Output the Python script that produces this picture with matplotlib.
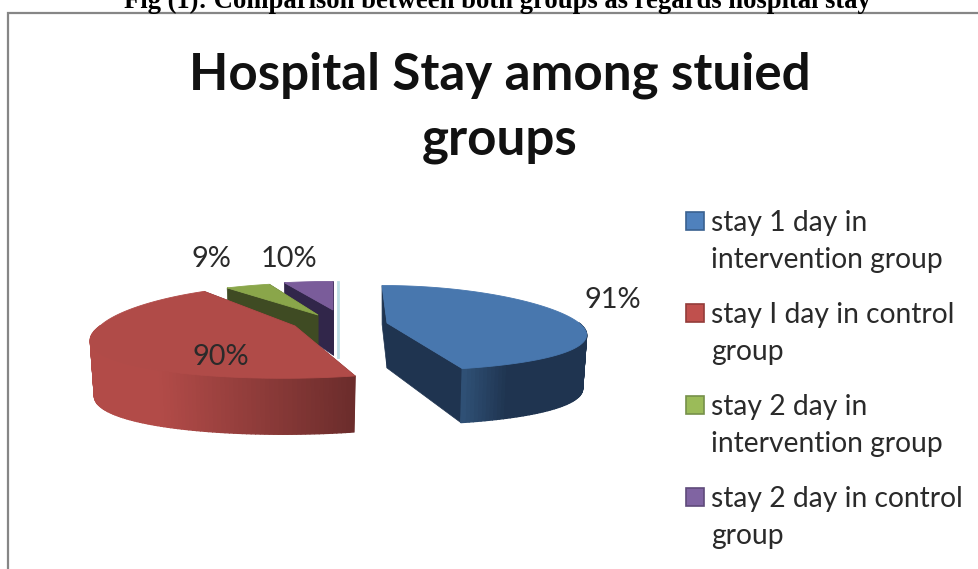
import numpy as np
import matplotlib
matplotlib.use("Agg")
import matplotlib.pyplot as plt
from matplotlib.colors import to_rgb
from matplotlib.patches import Rectangle

# ---- data ----
caption = "Fig (1): Comparison between both groups as regards hospital stay"
title = "Hospital Stay among stuied\ngroups"
labels = ["stay 1 day in\nintervention group", "stay I day in control\ngroup",
          "stay 2 day in\nintervention group", "stay 2 day in control\ngroup"]
values = [91, 90, 9, 10]

# ---- style / layout ----
legend_colors = ["#4f81bd", "#c0504d", "#9bbb59", "#8064a2"]
legend_edges = ["#3a6190", "#933c3a", "#76904a", "#5f4a7a"]
top_colors = ["#4877ae", "#b04b48", "#8aa64a", "#7a5c9a"]
side_colors = ["#1f3450", "#6f2f2e", "#3f4b23", "#31264a"]
wall_light = ["#2f5075", "#b24b48", "#3f4b23", "#31264a"]
wall_dark = ["#1f3450", "#6a2c2b", "#3f4b23", "#31264a"]
centers = [(387, 323), (295, 326), (318, 315), (333, 310)]
radius_x = [192, 195, 195, 195]
radius_y = [42, 46, 36, 32]
shear = [5, 0, 0, 0]
front_shear = [0, -12, 0, 0]
wall_height = [54, 56, 54, 54]
label_pos = [(613, 300), (221, 357), (211, 259), (289, 259)]
KX, KY = 0.25, 0.12
H_APEX, H_BACK_LOSS, BOTTOM = 45, 15, 0.98

plt.rcParams["font.family"] = ["Lato", "DejaVu Sans"]
fig = plt.figure(figsize=(9.79, 5.69), dpi=100)
ax = fig.add_axes([0, 0, 1, 1])
ax.set_xlim(0, 979)
ax.set_ylim(569, 0)
ax.axis("off")

# chart frame and caption
ax.plot([8, 8, 979], [569, 13, 13], color="#868686", lw=1.6, solid_joinstyle="miter")
ax.text(497, 8, caption, family="Liberation Serif", weight="bold", fontsize=19.2,
        ha="center", va="baseline", color="black")
ax.text(500, 108, title, fontsize=36.8, weight="bold", ha="center", va="center",
        linespacing=1.46, color="#111111")


def project(i, theta):
    X, Y = np.sin(theta), -np.cos(theta)
    x = radius_x[i] * X / (1 - KX * Y) + shear[i] * Y + front_shear[i] * np.maximum(Y, 0)
    y = radius_y[i] * Y / (1 - KY * Y)
    return x, y, Y


def depth(i, Y):
    return wall_height[i] - H_BACK_LOSS * np.maximum(-Y, 0)


def mix(a, b, t):
    a, b = np.array(to_rgb(a)), np.array(to_rgb(b))
    return tuple(a + (b - a) * t)


edges = np.radians(np.concatenate([[0], np.cumsum(values)]) / np.sum(values) * 360)

# ---- pale sliver behind the small slices ----
ax.plot([338, 338], [282, 357], color="#bcdde4", lw=2, zorder=1)

for i in [3, 2, 1, 0]:
    z = 2 + (3 - i)
    cx, cy = centers[i]
    th = np.linspace(edges[i], edges[i + 1], 160)
    px, py, pY = project(i, th)

    # cut faces
    for t in (edges[i], edges[i + 1]):
        x, y, Y = project(i, t)
        ax.fill([cx, cx + x, cx + x * BOTTOM, cx],
                [cy, cy + y, cy + y + depth(i, Y), cy + H_APEX],
                color=side_colors[i], lw=0.5, zorder=z)

    # outer wall (front half only), shaded strip by strip from left to right
    xs = cx + px
    front = pY > -0.02
    if front.any():
        lo, hi = xs[front].min(), xs[front].max()
        for k in range(len(th) - 1):
            if not (front[k] and front[k + 1]):
                continue
            u = (min(xs[k], xs[k + 1]) - lo) / max(hi - lo, 1)
            if i == 0:
                col = mix(wall_light[i], wall_dark[i], min(u / 0.35, 1))
            elif i == 1:
                col = mix(wall_light[i], wall_dark[i], max(u - 0.25, 0) / 0.75)
            else:
                col = wall_dark[i]
            h = wall_height[i]
            ax.fill([cx + px[k], cx + px[k + 1], cx + px[k + 1] * BOTTOM, cx + px[k] * BOTTOM],
                    [cy + py[k], cy + py[k + 1], cy + py[k + 1] + h, cy + py[k] + h],
                    color=col, lw=1.0, zorder=z)

    # top face
    ax.fill(np.r_[cx, cx + px], np.r_[cy, cy + py], color=top_colors[i], lw=0.6, zorder=z + 0.5)

# ---- percentage labels ----
for (lx, ly), v in zip(label_pos, values):
    ax.text(lx, ly, f"{v}%", fontsize=20.8, ha="center", va="center", color="#2a2a2a", zorder=10)

# ---- legend ----
for i, lab in enumerate(labels):
    top = 212 + 92 * i
    ax.add_patch(Rectangle((686.5, top), 17.5, 18, facecolor=legend_colors[i],
                           edgecolor=legend_edges[i], lw=1.2, zorder=10))
    line1, line2 = lab.split("\n")
    ax.text(711, top + 11, line1, fontsize=20.3, va="center", ha="left", color="#2a2a2a", zorder=10)
    ax.text(711, top + 48, line2, fontsize=20.3, va="center", ha="left", color="#2a2a2a", zorder=10)

fig.savefig("out.png", dpi=100)
